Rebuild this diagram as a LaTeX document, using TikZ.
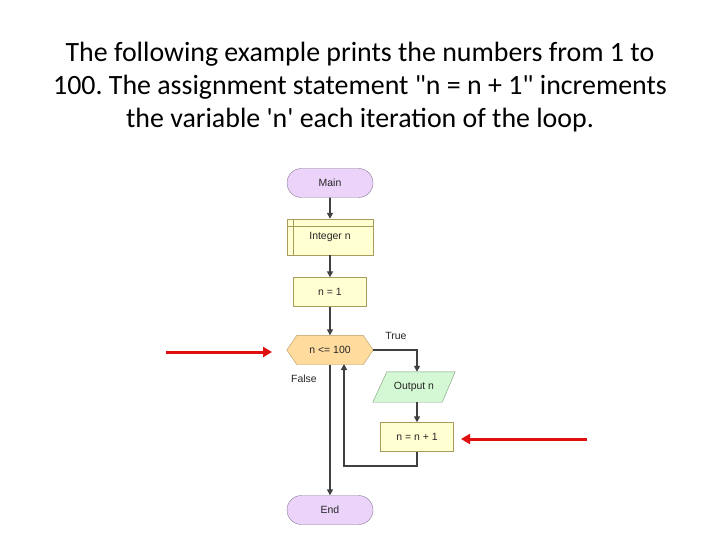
\documentclass[tikz,border=0pt]{standalone}
\usepackage{fontspec}
\setmainfont{Carlito}[Ligatures=TeXOff]
\newfontfamily\chartfont{Liberation Sans}
\usetikzlibrary{shapes.misc,backgrounds,arrows.meta}
\definecolor{termfill}{HTML}{EBD3FA}
\definecolor{termdraw}{HTML}{8A7A96}
\definecolor{boxfill}{HTML}{FFFFD2}
\definecolor{boxdraw}{HTML}{A89C5C}
\definecolor{condfill}{HTML}{FFDB9E}
\definecolor{conddraw}{HTML}{B49C64}
\definecolor{outfill}{HTML}{D4F8D4}
\definecolor{outdraw}{HTML}{7A9A7A}
\definecolor{flowline}{HTML}{404040}
\definecolor{redarrow}{HTML}{E01010}
\frenchspacing
\tikzset{
  chart/.style={font=\chartfont\fontsize{10.5}{12}\selectfont, text=black!85, inner sep=0pt},
  term/.style={chart, rounded rectangle, draw=termdraw, fill=termfill, minimum width=86bp, minimum height=29bp},
  procbox/.style={chart, rectangle, draw=boxdraw, fill=boxfill, minimum width=73bp, minimum height=29bp},
  plain/.style={chart, rectangle, minimum height=29bp},
  flow/.style={draw=flowline, line width=1.8bp, -{Triangle[length=6bp,width=6bp]}},
  redarr/.style={draw=redarrow, line width=3bp, -{Triangle[length=9bp,width=10bp]}},
  lbl/.style={chart}
}
\begin{document}
\begin{tikzpicture}[x=1bp,y=-1bp]
\useasboundingbox (0,0) rectangle (720,540);
\begin{scope}[on background layer]
\fill[white] (0,0) rectangle (720,540);
\end{scope}
% title
\node[font=\fontsize{28}{33}\selectfont, align=center] (title) at (360,87)
  {The following example prints the numbers from 1 to\\
   100. The assignment statement "n = n + 1" increments\\
   the variable 'n' each iteration of the loop.};
% flowchart nodes
\node[term] (main) at (330,183) {Main};
\node[procbox, minimum width=86bp, minimum height=36bp] (decl) at (330,237) {\raisebox{-3bp}{Integer n}};
\draw[boxdraw] ([xshift=6bp]decl.north west) -- ([xshift=6bp]decl.south west);
\draw[boxdraw] ([yshift=-7bp]decl.north west) -- ([yshift=-7bp]decl.north east);
\node[procbox] (init) at (330,292) {n = 1};
\node[plain, minimum width=86bp] (cond) at (330,350) {n <= 100};
\begin{scope}[on background layer]
\draw[draw=conddraw, fill=condfill] (cond.west) -- ([xshift=10bp]cond.north west) -- ([xshift=-10bp]cond.north east) -- (cond.east) -- ([xshift=-10bp]cond.south east) -- ([xshift=10bp]cond.south west) -- cycle;
\end{scope}
\node[plain, minimum width=82bp, minimum height=30bp] (out) at (414,387) {Output n};
\begin{scope}[on background layer]
\draw[draw=outdraw, fill=outfill] ([xshift=14bp]out.north west) -- (out.north east) -- ([xshift=-13bp]out.south east) -- (out.south west) -- cycle;
\end{scope}
\node[procbox] (incr) at (417,437) {n = n + 1};
\node[term] (end) at (330,510) {End};
\node[lbl] (truelbl) at (396,336) {True};
\node[lbl] (falselbl) at (304,379) {False};
\coordinate (tcorner) at (417,350);
\coordinate (lb) at (417,466);
\coordinate (ll) at (344,466);
\coordinate (lup) at (344,364);
% connectors
\draw[flow] (main) -- (decl);
\draw[flow] (decl) -- (init);
\draw[flow] (init) -- (cond);
\draw[flow] (cond.east) -- (tcorner) -- (tcorner |- out.north);
\draw[flow] (out.south -| incr.north) -- (incr.north);
\draw[flow] (incr.south) -- (lb) -- (ll) -- (lup);
\draw[flow] (cond.south) -- (end.north);
% red arrows
\coordinate (ra1) at (166,352);
\coordinate (ra1e) at (272,352);
\coordinate (ra2) at (587,439);
\coordinate (ra2e) at (461,439);
\draw[redarr] (ra1) -- (ra1e);
\draw[redarr] (ra2) -- (ra2e);
\end{tikzpicture}
\end{document}
